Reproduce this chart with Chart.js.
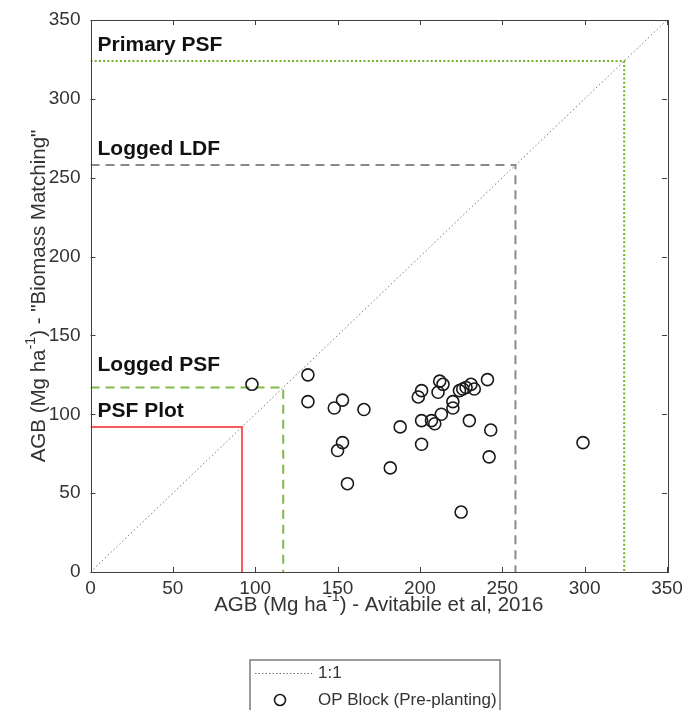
<!DOCTYPE html>
<html>
<head>
<meta charset="utf-8">
<script src="https://cdn.jsdelivr.net/npm/chart.js@4.4.0/dist/chart.umd.min.js"></script>
<style>
  html, body { margin: 0; padding: 0; background: #fff; }
  #wrap { width: 685px; height: 710px; }
</style>
</head>
<body>
<div id="wrap"><canvas id="grafico" width="685" height="710"></canvas></div>
<script>
// valores
const avitabileX = [98, 132, 132, 153, 148, 166, 153, 150, 156, 182, 188, 201, 201, 207, 209, 213,
    201, 199, 212, 214, 211, 220, 220, 224, 226, 228, 231, 233, 241, 230, 243, 242, 225, 299];
const matchingY = [119, 125, 108, 109, 104, 103, 82, 77, 56, 66, 92, 81, 96, 96, 94, 100,
    115, 111, 121, 119, 114, 108, 104, 115, 116, 117, 119, 116, 122, 96, 90, 73, 38, 82];

const refNomes = ['PSF Plot', 'Logged PSF', 'Logged LDF', 'Primary PSF'];
const refValores = [92, 117, 258, 324];
const refCores = ['#f65a5a', '#80bb46', '#8a8a8a', '#72ad2c'];
const refTracos = [[], [9, 6], [9, 6], [2, 2.2]];
const refDeslocTexto = [10, 16, 10, 10];

const linha11 = [0, 350];
const ticks = [0, 50, 100, 150, 200, 250, 300, 350];

const corTexto = '#333333';
const fonte = '"Liberation Sans", Arial, sans-serif';

const pontos = avitabileX.map((x, i) => ({ x, y: matchingY[i] }));

const datasetsRef = refValores.map((v, i) => ({
    type: 'line',
    label: refNomes[i],
    data: [{ x: 0, y: v }, { x: v, y: v }, { x: v, y: 0 }],
    borderColor: refCores[i],
    borderDash: refTracos[i],
    borderWidth: 2,
    pointRadius: 0,
    fill: false,
    tension: 0,
    order: 2
}));

// texto com sobrescrito (ha^-1)
function larguraRica(ctx, partes, tam) {
    let largura = 0;
    partes.forEach(p => {
        ctx.font = `${p.sup ? tam * 0.7 : tam}px ${fonte}`;
        largura += ctx.measureText(p.t).width;
    });
    return largura;
}

function desenhaRico(ctx, partes, x, y, tam) {
    const w = larguraRica(ctx, partes, tam);
    let cx = x - w / 2;
    ctx.textAlign = 'left';
    ctx.textBaseline = 'middle';
    partes.forEach(p => {
        ctx.font = `${p.sup ? tam * 0.7 : tam}px ${fonte}`;
        ctx.fillText(p.t, cx, p.sup ? y - tam * 0.38 : y);
        cx += ctx.measureText(p.t).width;
    });
}

const pluginMatlab = {
    id: 'matlab',
    afterDatasetsDraw(chart) {
        const { ctx, chartArea: a, scales: { x, y } } = chart;
        ctx.save();

        // caixa e ticks internos
        ctx.strokeStyle = '#404040';
        ctx.lineWidth = 1;
        ctx.strokeRect(Math.round(a.left) + 0.5, Math.round(a.top) + 0.5,
            Math.round(a.right - a.left), Math.round(a.bottom - a.top));
        ctx.beginPath();
        ticks.forEach(t => {
            const px = Math.round(x.getPixelForValue(t)) + 0.5;
            const py = Math.round(y.getPixelForValue(t)) + 0.5;
            ctx.moveTo(px, a.bottom); ctx.lineTo(px, a.bottom - 5);
            ctx.moveTo(px, a.top); ctx.lineTo(px, a.top + 5);
            ctx.moveTo(a.left, py); ctx.lineTo(a.left + 5, py);
            ctx.moveTo(a.right, py); ctx.lineTo(a.right - 5, py);
        });
        ctx.stroke();

        // rótulos das linhas de referência
        ctx.fillStyle = '#111';
        ctx.font = `bold 21px ${fonte}`;
        ctx.textAlign = 'left';
        ctx.textBaseline = 'alphabetic';
        refValores.forEach((v, i) => {
            ctx.fillText(refNomes[i], a.left + 7, y.getPixelForValue(v) - refDeslocTexto[i]);
        });

        // títulos dos eixos
        ctx.fillStyle = corTexto;
        desenhaRico(ctx, [{ t: 'AGB (Mg ha' }, { t: '-1', sup: true }, { t: ') - Avitabile et al, 2016' }],
            (a.left + a.right) / 2, a.bottom + 33, 20.5);
        ctx.save();
        ctx.translate(39, (a.top + a.bottom) / 2);
        ctx.rotate(-Math.PI / 2);
        desenhaRico(ctx, [{ t: 'AGB (Mg ha' }, { t: '-1', sup: true }, { t: ') - "Biomass Matching"' }], 0, 0, 20.5);
        ctx.restore();

        // legenda
        const lx = 250, ly = 660, lw = 250, lh = 60;
        ctx.strokeStyle = '#7a7a7a';
        ctx.lineWidth = 1.5;
        ctx.strokeRect(lx, ly, lw, lh);
        ctx.strokeStyle = '#777';
        ctx.lineWidth = 1;
        ctx.setLineDash([1.5, 2]);
        ctx.beginPath();
        ctx.moveTo(lx + 5, ly + 13.5); ctx.lineTo(lx + 62, ly + 13.5);
        ctx.stroke();
        ctx.setLineDash([]);
        ctx.strokeStyle = '#1a1a1a';
        ctx.lineWidth = 1.6;
        ctx.beginPath();
        ctx.arc(lx + 30, ly + 40, 5.5, 0, Math.PI * 2);
        ctx.stroke();
        ctx.fillStyle = corTexto;
        ctx.font = `17px ${fonte}`;
        ctx.textAlign = 'left';
        ctx.textBaseline = 'middle';
        ctx.fillText('1:1', lx + 68, ly + 13);
        ctx.fillText('OP Block (Pre-planting)', lx + 68, ly + 40);

        ctx.restore();
    }
};

const ctx = document.getElementById('grafico').getContext('2d');

new Chart(ctx, {
    type: 'scatter',
    data: {
        datasets: [
            {
                type: 'scatter',
                label: 'OP Block (Pre-planting)',
                data: pontos,
                pointStyle: 'circle',
                pointRadius: 6,
                pointBorderWidth: 1.6,
                borderColor: '#1a1a1a',
                backgroundColor: 'rgba(0,0,0,0)',
                order: 0
            },
            ...datasetsRef,
            {
                type: 'line',
                label: '1:1',
                data: linha11.map(v => ({ x: v, y: v })),
                borderColor: '#7a7a7a',
                borderDash: [1.5, 2.5],
                borderWidth: 1,
                pointRadius: 0,
                fill: false,
                order: 3
            }
        ]
    },
    plugins: [pluginMatlab],
    options: {
        responsive: false,
        animation: false,
        layout: { padding: { left: 0, right: 18, top: 20, bottom: 0 } },
        plugins: {
            legend: { display: false },
            tooltip: { enabled: false }
        },
        scales: {
            x: {
                type: 'linear',
                min: 0,
                max: 350,
                afterBuildTicks: s => { s.ticks = ticks.map(v => ({ value: v })); },
                afterFit: s => { s.height = 138; s.paddingLeft = 0; s.paddingRight = 0; },
                grid: { display: false, drawTicks: false },
                border: { display: false },
                ticks: {
                    color: corTexto,
                    font: { family: fonte, size: 19 },
                    padding: 5,
                    maxRotation: 0
                }
            },
            y: {
                type: 'linear',
                min: 0,
                max: 350,
                afterBuildTicks: s => { s.ticks = ticks.map(v => ({ value: v })); },
                afterFit: s => { s.width = 90.5; s.paddingTop = 0; s.paddingBottom = 0; },
                grid: { display: false, drawTicks: false },
                border: { display: false },
                ticks: {
                    color: corTexto,
                    font: { family: fonte, size: 19 },
                    padding: 10
                }
            }
        }
    }
});
</script>
</body>
</html>
